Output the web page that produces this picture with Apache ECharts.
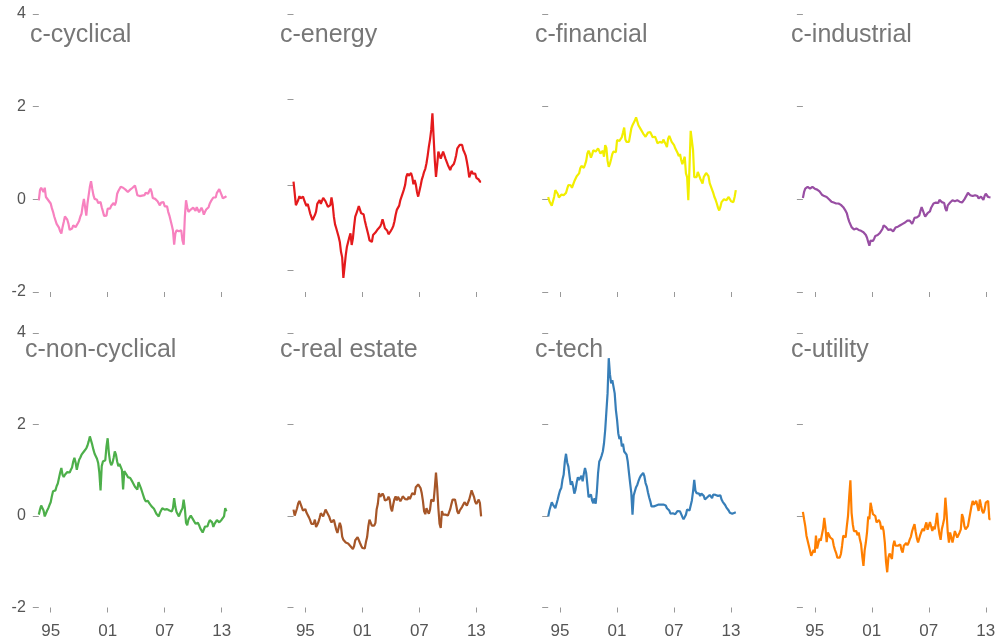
<!DOCTYPE html>
<html>
<head>
<meta charset="utf-8">
<script src="https://cdn.jsdelivr.net/npm/echarts@6/dist/echarts.min.js"></script>
<style>
  html, body { margin: 0; padding: 0; background: #fff; }
  #chart { width: 1000px; height: 641px; }
</style>
</head>
<body>
<div id="chart"></div>
<script>
// Observation dates, every eighth of a year from late 1993 to mid 2013
const dates = Array.from({ length: 159 }, (_, j) => 1993.75 + 0.125 * j);

const sectorNames = ['c-cyclical', 'c-energy', 'c-financial', 'c-industrial',
                     'c-non-cyclical', 'c-real estate', 'c-tech', 'c-utility'];
const sectorColors = ['#f781bf', '#e41a1c', '#f2ee00', '#984ea3',
                      '#4daf4a', '#a65628', '#377eb8', '#ff7f00'];

const yTicks = [-2, 0, 2, 4];
const yearTicks = [1995, 2001, 2007, 2013];

const cyclical = [
  -0.02,0.20,0.25,0.21,0.16,0.25,0.05,0.03,-0.02,-0.06,
  -0.09,-0.19,-0.27,-0.37,-0.35,-0.53,-0.54,-0.61,-0.69,-0.74,
  -0.60,-0.49,-0.37,-0.38,-0.44,-0.53,-0.66,-0.66,-0.63,-0.56,
  -0.57,-0.60,-0.59,-0.51,-0.46,-0.37,-0.31,-0.13,0.01,0.01,
  -0.35,-0.09,0.09,0.27,0.39,0.23,0.09,0.01,-0.01,-0.01,
  -0.08,-0.05,-0.06,-0.17,-0.26,-0.36,-0.40,-0.35,-0.20,-0.18,
  -0.20,-0.14,-0.11,-0.08,-0.13,-0.06,0.12,0.18,0.14,0.27,
  0.30,0.25,0.21,0.21,0.23,0.16,0.16,0.21,0.25,0.25,
  0.25,0.30,0.20,0.09,0.11,0.07,0.07,0.08,0.05,0.09,
  0.14,0.16,0.12,0.18,0.23,0.16,0.03,0.05,0.01,-0.02,
  -0.04,-0.07,-0.13,-0.07,-0.04,-0.06,-0.15,-0.15,-0.15,-0.27,
  -0.35,-0.38,-0.56,-0.67,-0.98,-0.74,-0.67,-0.65,-0.69,-0.69,
  -0.67,-0.89,-0.98,-0.38,-0.02,-0.17,-0.27,-0.25,-0.22,-0.24,
  -0.18,-0.21,-0.25,-0.17,-0.18,-0.28,-0.27,-0.18,-0.24,-0.33,
  -0.27,-0.22,-0.18,-0.17,-0.09,-0.04,-0.02,0.04,0.04,0.04,
  0.14,0.17,0.22,0.23,0.09,0.02,-0.01,0.05,0.07];

const energy = [
  0.08,-0.19,-0.47,-0.44,-0.35,-0.26,-0.31,-0.34,-0.27,-0.35,
  -0.43,-0.49,-0.44,-0.55,-0.66,-0.70,-0.82,-0.83,-0.70,-0.62,
  -0.44,-0.41,-0.35,-0.44,-0.47,-0.30,-0.31,-0.38,-0.39,-0.51,
  -0.55,-0.47,-0.29,-0.46,-0.74,-0.92,-1.01,-1.11,-1.21,-1.33,
  -1.56,-1.69,-2.17,-1.91,-1.64,-1.44,-1.33,-1.22,-1.13,-1.40,
  -1.25,-0.97,-0.74,-0.66,-0.58,-0.49,-0.47,-0.66,-0.62,-0.68,
  -0.82,-0.94,-1.05,-1.16,-1.29,-1.33,-1.33,-1.17,-1.13,-1.11,
  -1.07,-1.03,-1.04,-0.97,-0.90,-0.80,-0.90,-1.01,-0.99,-1.07,
  -1.15,-1.17,-1.07,-1.02,-0.96,-0.85,-0.70,-0.58,-0.55,-0.48,
  -0.35,-0.27,-0.19,-0.10,0.00,0.19,0.27,0.22,0.19,0.28,
  0.19,0.02,0.12,0.02,-0.16,-0.27,-0.23,-0.02,0.12,0.21,
  0.31,0.38,0.51,0.69,0.90,1.07,1.29,1.68,1.13,0.58,
  0.19,0.47,0.78,0.74,0.62,0.62,0.78,0.70,0.62,0.58,
  0.47,0.43,0.35,0.43,0.43,0.49,0.58,0.70,0.86,0.90,
  0.94,0.97,0.94,0.82,0.76,0.69,0.55,0.39,0.18,0.19,
  0.33,0.27,0.26,0.27,0.17,0.13,0.13,0.08,0.08];

const financial = [
  0.05,-0.04,-0.09,-0.14,-0.15,0.05,0.20,0.20,0.12,0.04,
  0.05,0.10,0.12,0.09,0.09,0.14,0.23,0.31,0.33,0.30,
  0.25,0.29,0.39,0.43,0.50,0.53,0.56,0.67,0.72,0.73,
  0.68,0.75,0.83,0.99,1.05,0.99,0.90,0.97,1.06,1.08,
  1.03,1.05,1.10,1.13,0.99,1.02,1.05,0.92,1.17,1.11,
  0.83,0.70,0.77,0.87,0.98,1.03,1.05,1.02,1.28,1.30,
  1.26,1.22,1.34,1.44,1.55,1.29,1.24,1.22,1.24,1.28,
  1.53,1.60,1.64,1.70,1.77,1.75,1.60,1.56,1.51,1.50,
  1.42,1.39,1.35,1.35,1.44,1.46,1.45,1.43,1.34,1.32,
  1.35,1.29,1.21,1.17,1.24,1.23,1.22,1.29,1.24,1.19,
  1.13,1.31,1.37,1.37,1.24,1.22,1.17,1.10,1.06,1.00,
  0.93,0.98,0.85,0.76,0.74,0.92,0.56,0.48,-0.02,0.70,
  1.48,1.50,1.06,0.48,0.48,0.48,0.59,0.52,0.45,0.45,
  0.34,0.48,0.45,0.57,0.59,0.50,0.35,0.32,0.21,0.14,
  0.05,-0.01,-0.09,-0.18,-0.24,-0.17,-0.06,-0.04,0.00,-0.01,
  -0.02,-0.01,0.05,0.01,-0.04,-0.02,-0.06,0.05,0.20];

const industrial = [
  0.03,0.16,0.23,0.27,0.27,0.25,0.23,0.26,0.27,0.25,
  0.23,0.22,0.21,0.20,0.17,0.14,0.10,0.07,0.07,0.07,
  0.05,0.02,0.00,-0.03,-0.05,-0.07,-0.07,-0.08,-0.09,-0.09,
  -0.09,-0.11,-0.12,-0.14,-0.17,-0.21,-0.25,-0.30,-0.40,-0.48,
  -0.54,-0.60,-0.63,-0.65,-0.66,-0.63,-0.64,-0.66,-0.67,-0.68,
  -0.69,-0.71,-0.74,-0.77,-0.83,-0.92,-1.00,-0.89,-0.92,-0.90,
  -0.85,-0.79,-0.78,-0.77,-0.74,-0.72,-0.69,-0.64,-0.56,-0.56,
  -0.60,-0.63,-0.66,-0.66,-0.65,-0.69,-0.69,-0.66,-0.61,-0.61,
  -0.59,-0.59,-0.56,-0.55,-0.53,-0.51,-0.50,-0.48,-0.46,-0.45,
  -0.46,-0.50,-0.53,-0.47,-0.40,-0.38,-0.39,-0.38,-0.35,-0.25,
  -0.17,-0.20,-0.31,-0.37,-0.33,-0.30,-0.28,-0.26,-0.18,-0.14,
  -0.09,-0.07,-0.07,-0.09,-0.08,-0.01,0.01,-0.06,-0.03,-0.08,
  -0.20,-0.25,-0.13,-0.11,-0.07,-0.05,-0.02,-0.05,-0.04,-0.03,
  -0.02,-0.04,-0.05,-0.04,-0.07,-0.05,0.00,0.03,0.09,0.14,
  0.12,0.09,0.11,0.07,0.04,0.09,0.11,0.07,0.02,0.05,
  0.06,0.04,-0.01,0.07,0.12,0.14,0.05,0.01,0.04];

const nonCyclical = [
  0.03,0.14,0.23,0.20,0.12,-0.01,0.03,0.12,0.17,0.24,
  0.30,0.43,0.54,0.55,0.56,0.65,0.71,0.83,0.95,1.05,
  0.90,0.85,0.90,0.93,0.96,1.00,0.95,1.01,1.06,1.19,
  1.27,1.17,1.01,1.13,1.23,1.28,1.34,1.36,1.41,1.45,
  1.48,1.54,1.63,1.74,1.78,1.56,1.45,1.36,1.34,1.25,
  1.16,0.94,0.56,1.09,1.19,1.21,1.22,1.52,1.70,1.38,
  1.19,1.11,1.16,1.27,1.41,1.34,1.19,1.09,1.14,1.10,
  1.01,0.58,0.98,0.94,0.90,0.85,0.83,0.83,0.81,0.74,
  0.70,0.64,0.61,0.58,0.74,0.71,0.61,0.53,0.50,0.37,
  0.32,0.36,0.33,0.28,0.24,0.21,0.19,0.16,0.14,0.05,
  0.01,-0.01,0.07,0.12,0.17,0.17,0.14,0.15,0.15,0.12,
  0.12,0.13,0.10,0.17,0.39,0.20,0.09,0.05,-0.01,0.06,
  0.12,0.17,0.36,0.17,-0.15,-0.20,-0.08,-0.04,0.01,0.03,
  -0.08,-0.11,-0.17,-0.19,-0.15,-0.20,-0.27,-0.29,-0.36,-0.34,
  -0.23,-0.26,-0.23,-0.15,-0.09,-0.10,-0.14,-0.24,-0.17,-0.14,
  -0.09,-0.10,-0.14,-0.15,-0.08,-0.07,-0.01,0.17,0.10];

const realEstate = [
  0.14,0.01,0.01,0.17,0.28,0.33,0.32,0.19,0.12,0.15,
  0.15,0.07,0.05,-0.03,-0.09,-0.17,-0.20,-0.17,-0.08,-0.24,
  -0.19,-0.13,-0.04,0.06,0.05,-0.01,-0.01,0.14,0.10,0.04,
  -0.01,-0.09,-0.14,-0.17,-0.08,-0.19,-0.30,-0.37,-0.36,-0.15,
  -0.23,-0.45,-0.52,-0.55,-0.58,-0.62,-0.60,-0.63,-0.66,-0.70,
  -0.72,-0.66,-0.53,-0.52,-0.46,-0.48,-0.59,-0.65,-0.70,-0.74,
  -0.71,-0.57,-0.46,-0.23,-0.08,-0.06,-0.21,-0.25,-0.21,-0.15,
  0.14,0.26,0.50,0.42,0.39,0.49,0.44,0.34,0.30,0.36,
  0.42,0.36,0.17,0.10,0.25,0.37,0.43,0.34,0.42,0.46,
  0.32,0.37,0.43,0.47,0.37,0.34,0.36,0.42,0.37,0.33,
  0.50,0.46,0.47,0.63,0.65,0.69,0.71,0.61,0.50,0.33,
  0.10,0.04,0.17,0.10,0.05,0.14,0.36,0.35,0.32,0.61,
  0.95,0.62,0.17,-0.17,-0.26,0.11,0.03,0.01,0.03,0.07,
  0.01,0.05,0.15,0.26,0.36,0.40,0.36,0.24,0.10,0.05,
  0.12,0.16,0.20,0.25,0.30,0.30,0.23,0.27,0.36,0.46,
  0.56,0.49,0.42,0.31,0.26,0.31,0.36,0.28,-0.01];

const tech = [
  -0.01,0.12,0.15,0.30,0.25,0.23,0.17,0.21,0.36,0.47,
  0.56,0.61,0.79,0.90,1.19,1.36,1.17,1.08,0.87,0.68,
  0.76,0.65,0.49,0.57,0.73,0.85,0.79,0.76,0.88,0.76,
  0.92,1.05,0.94,0.68,0.41,0.39,0.47,0.34,0.28,0.39,
  0.27,0.54,0.94,1.19,1.24,1.32,1.41,1.59,1.88,2.28,
  2.68,3.45,3.10,2.90,2.97,2.94,2.68,2.32,2.10,1.81,
  1.68,1.74,1.52,1.58,1.41,1.41,1.34,1.19,0.95,0.72,
  0.50,0.03,0.45,0.54,0.63,0.68,0.76,0.83,0.88,0.91,
  0.94,0.87,0.72,0.65,0.52,0.41,0.32,0.21,0.20,0.21,
  0.24,0.23,0.24,0.25,0.21,0.25,0.27,0.25,0.27,0.23,
  0.17,0.17,0.12,0.05,0.03,0.06,0.05,0.04,0.07,0.11,
  0.12,0.10,0.07,-0.02,-0.07,-0.02,0.03,0.14,0.17,0.12,
  0.12,0.34,0.54,0.79,0.55,0.50,0.52,0.49,0.44,0.49,
  0.49,0.44,0.36,0.39,0.41,0.44,0.46,0.43,0.39,0.47,
  0.44,0.46,0.50,0.44,0.44,0.45,0.36,0.31,0.27,0.24,
  0.19,0.16,0.12,0.07,0.07,0.05,0.03,0.07,0.08];

const utility = [
  0.09,-0.07,-0.22,-0.43,-0.40,-0.65,-0.76,-0.87,-0.91,-0.74,
  -0.80,-0.43,-0.71,-0.67,-0.49,-0.54,-0.54,-0.28,-0.04,-0.25,
  -0.57,-0.36,-0.33,-0.47,-0.47,-0.51,-0.65,-0.74,-0.81,-0.91,
  -0.94,-0.91,-0.83,-0.65,-0.43,-0.40,-0.47,-0.22,0.00,0.43,
  0.78,0.07,-0.18,-0.33,-0.36,-0.33,-0.42,-0.36,-0.51,-0.62,
  -0.88,-1.09,-0.75,-0.58,-0.36,-0.01,-0.07,0.29,0.16,0.04,
  0.04,0.00,-0.14,-0.18,-0.09,-0.14,-0.29,-0.22,-0.33,-0.58,
  -1.00,-1.23,-0.91,-0.82,-0.88,-0.94,-0.65,-0.54,-0.65,-0.69,
  -0.65,-0.64,-0.62,-0.74,-0.80,-0.65,-0.65,-0.59,-0.64,-0.59,
  -0.51,-0.45,-0.33,-0.25,-0.18,-0.35,-0.49,-0.58,-0.59,-0.40,
  -0.33,-0.28,-0.33,-0.22,-0.14,-0.30,-0.22,-0.13,-0.14,-0.33,
  -0.23,-0.29,-0.14,0.07,-0.22,-0.40,-0.52,-0.29,-0.18,-0.06,
  0.40,0.07,-0.36,-0.58,-0.36,-0.36,-0.58,-0.58,-0.33,-0.29,
  -0.47,-0.45,-0.36,-0.29,0.04,-0.04,-0.22,-0.29,-0.28,-0.22,
  -0.07,-0.07,0.22,0.33,0.25,0.22,0.33,0.22,0.11,0.36,
  0.23,0.11,0.06,0.14,0.29,0.33,0.33,-0.07,-0.07];

const sectorValues = [cyclical, energy, financial, industrial,
                      nonCyclical, realEstate, tech, utility];
// lower y limit per panel (energy dips below -2)
const yMins = [-2, -2.5, -2, -2, -2, -2, -2, -2];

const FONT = '"Liberation Sans", Arial, Helvetica, sans-serif';
const colStep = 254.7;
const rows = [
  { top: 14, height: 278, titleTop: 23 },
  { top: 333, height: 274.5, titleTop: 338 }
];
const titleLeft = [30, 280, 535, 791, 25, 280, 535, 791];

const grid = [], xAxis = [], yAxis = [], series = [], title = [];
sectorNames.forEach((name, i) => {
  const col = i % 4, row = Math.floor(i / 4);
  const r = rows[row];
  grid.push({ left: 38.8 + colStep * col, top: r.top, width: 187.6, height: r.height });
  xAxis.push({
    type: 'value', gridIndex: i, min: 1993.75, max: 2013.5,
    axisLine: { show: false, onZero: false }, splitLine: { show: false },
    axisTick: { show: true, customValues: yearTicks, length: 5, lineStyle: { color: '#999', width: 1 } },
    axisLabel: {
      show: row === 1, customValues: yearTicks, margin: 15,
      formatter: v => String(Math.round(v)).slice(2),
      color: '#555', fontSize: 17, fontFamily: FONT
    }
  });
  yAxis.push({
    type: 'value', gridIndex: i, min: yMins[i], max: 4,
    axisLine: { show: false, onZero: false }, splitLine: { show: false },
    axisTick: { show: true, customValues: yTicks, length: 6, lineStyle: { color: '#999', width: 1 } },
    axisLabel: {
      show: col === 0, customValues: yTicks, margin: 13,
      color: '#555', fontSize: 16, fontFamily: FONT
    }
  });
  series.push({
    type: 'line', name, xAxisIndex: i, yAxisIndex: i,
    data: dates.map((d, j) => [d, sectorValues[i][j]]),
    showSymbol: false, smooth: false,
    lineStyle: { color: sectorColors[i], width: 2.2 },
    itemStyle: { color: sectorColors[i] }
  });
  title.push({
    text: name, left: titleLeft[i], top: r.titleTop, padding: 0,
    textStyle: { fontSize: 25, fontWeight: 'normal', color: '#777', fontFamily: FONT }
  });
});

const chart = echarts.init(document.getElementById('chart'), null, { renderer: 'canvas' });
chart.setOption({
  animation: false,
  backgroundColor: '#fff',
  title, grid, xAxis, yAxis, series
});
</script>
</body>
</html>
